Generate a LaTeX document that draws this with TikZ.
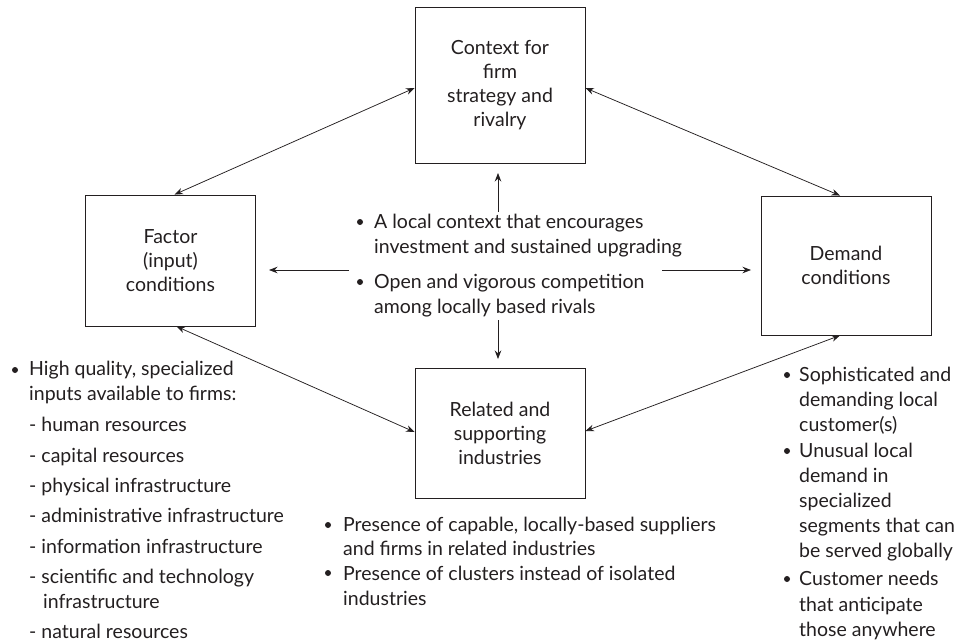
\documentclass[tikz,border=0pt]{standalone}
\usepackage{fontspec}
\setmainfont{Lato}
\usetikzlibrary{arrows.meta}
\definecolor{ink}{HTML}{231F20}
\begin{document}
\begin{tikzpicture}[x=1pt,y=-1pt,
  font=\fontsize{19.5}{24}\selectfont,
  box/.style={draw=ink, line width=0.9pt, inner sep=0pt, align=center, text=ink, minimum width=170pt},
  txt/.style={anchor=base west, inner sep=0pt, text=ink},
  bul/.style={circle, fill=ink, inner sep=0pt, minimum size=6pt},
  conn/.style={draw=ink, line width=0.75pt, {Stealth[length=8.5pt,width=6.5pt]}-{Stealth[length=8.5pt,width=6.5pt]}},
  one/.style={draw=ink, line width=0.75pt, -{Stealth[length=8.5pt,width=6.5pt]}}]
\useasboundingbox (0,0) rectangle (954,643);
% boxes
\node[box, minimum height=156pt] (ctx) at (500,85) {Context for\\firm\\strategy and\\rivalry};
\node[box, minimum height=131pt] (fac) at (170.5,260.5) {Factor\\(input)\\conditions};
\node[box, minimum height=139pt] (dem) at (846,265.5) {Demand\\conditions};
\node[box, minimum height=130pt] (rel) at (500,433) {Related and\\supporting\\industries};
% double connectors
\draw[conn] ([yshift=-3pt]ctx.west) -- ([xshift=4pt]fac.north);
\draw[conn] ([yshift=-3pt]ctx.east) -- ([xshift=-6pt]dem.north);
\draw[conn] ([xshift=6pt]fac.south) -- ([yshift=1pt]rel.west);
\draw[conn] ([yshift=2pt]rel.east) -- ([xshift=-6pt]dem.south);
% centre arrows
\coordinate (cu0) at (498,212); \coordinate (cu1) at (498,173);
\coordinate (cd0) at (498,320); \coordinate (cd1) at (498,359);
\coordinate (cl0) at (349,270); \coordinate (cl1) at (269,270);
\coordinate (cr0) at (662,270); \coordinate (cr1) at (751,270);
\draw[one] (cu0) -- (cu1);
\draw[one] (cd0) -- (cd1);
\draw[one] (cl0) -- (cl1);
\draw[one] (cr0) -- (cr1);
% centre text
\node[bul] (cb1) at (360,222) {};
\node[txt] (c1) at (374,228) {A local context that encourages};
\node[txt] (c2) at (374,253) {investment and sustained upgrading};
\node[bul] (cb2) at (360,282) {};
\node[txt] (c3) at (374,288) {Open and vigorous competition};
\node[txt] (c4) at (374,313) {among locally based rivals};
% factor text
\node[bul] (fb1) at (15,370) {};
\node[txt] (f1) at (29,375) {High quality, specialized};
\node[txt] (f2) at (29,400) {inputs available to firms:};
\node[txt] (f3) at (29,431) {- human resources};
\node[txt] (f4) at (29,462) {- capital resources};
\node[txt] (f5) at (29,492) {- physical infrastructure};
\node[txt] (f6) at (29,522) {- administrative infrastructure};
\node[txt] (f7) at (29,553) {- information infrastructure};
\node[txt] (f8) at (29,583) {- scientific and technology};
\node[txt] (f9) at (43,608) {infrastructure};
\node[txt] (f10) at (29,638) {- natural resources};
% related text
\node[bul] (rb1) at (328,525) {};
\node[txt] (r1) at (343,531) {Presence of capable, locally-based suppliers};
\node[txt] (r2) at (343,555) {and firms in related industries};
\node[bul] (rb2) at (328,573) {};
\node[txt] (r3) at (343,580) {Presence of clusters instead of isolated};
\node[txt] (r4) at (343,605) {industries};
% demand text
\node[bul] (db1) at (787,375) {};
\node[txt] (d1) at (799,381) {Sophisticated and};
\node[txt] (d2) at (799,406) {demanding local};
\node[txt] (d3) at (799,431) {customer(s)};
\node[bul] (db2) at (787,451) {};
\node[txt] (d4) at (799,457) {Unusual local};
\node[txt] (d5) at (799,482) {demand in};
\node[txt] (d6) at (799,507) {specialized};
\node[txt] (d7) at (799,532) {segments that can};
\node[txt] (d8) at (799,557) {be served globally};
\node[bul] (db3) at (787,579) {};
\node[txt] (d9) at (799,585) {Customer needs};
\node[txt] (d10) at (799,611) {that anticipate};
\node[txt] (d11) at (799,636) {those anywhere};
\end{tikzpicture}
\end{document}
